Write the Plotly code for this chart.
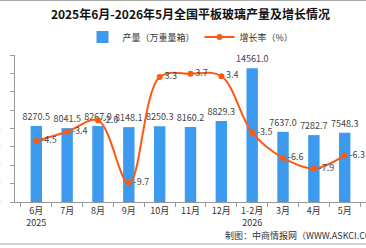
import plotly.graph_objects as go

categories = ["6月<br>2025", "7月", "8月", "9月", "10月", "11月", "12月", "1-2月<br>2026", "3月", "4月", "5月"]
output_vals = [8270.5, 8041.5, 8267.0, 8148.1, 8250.3, 8160.2, 8829.3, 14561.0, 7637.0, 7282.7, 7548.3]
growth_vals = [-4.5, -3.4, -2.0, -9.7, 3.3, 3.7, 3.4, -3.5, -6.6, -7.9, -6.3]
y_ticks = [0, 2000, 4000, 6000, 8000, 10000, 12000, 14000, 16000]

FONT = "Noto Sans CJK SC"
BAR_C = "#3D9BEF"
LINE_C = "#FA5A16"

W, H = 366, 248
ML, MR, MT, MB = 15, 0, 55, 46
PW, PH = W - ML - MR, H - MT - MB

def px(x):
    return (x - ML) / PW

def py(y):
    return (H - MB - y) / PH

fig = go.Figure()
fig.add_trace(go.Bar(
    x=categories, y=output_vals, name="产量（万重量箱）",
    marker=dict(color=BAR_C, line=dict(width=0)),
    text=[f"{v:.1f}" for v in output_vals], textposition="outside", constraintext="none",
    textfont=dict(size=9, color="#444", family=FONT), cliponaxis=False,
))
fig.add_trace(go.Scatter(
    x=categories, y=growth_vals, name="增长率（%）", yaxis="y2",
    mode="lines+markers+text", line=dict(color=LINE_C, width=2, shape="spline", smoothing=1.0),
    marker=dict(color=LINE_C, size=6),
    text=[f"{v:.1f}" for v in growth_vals], textposition="middle right",
    textfont=dict(size=9, color="#444", family=FONT), cliponaxis=False,
))

fig.update_layout(
    width=W, height=H,
    margin=dict(l=ML, r=MR, t=MT, b=MB, autoexpand=False),
    paper_bgcolor="white", plot_bgcolor="white",
    font=dict(family=FONT, size=9, color="#333"),
    title=dict(text="<b>2025年6月-2026年5月全国平板玻璃产量及增长情况</b>",
               x=0.5, xref="paper", y=1 - 15 / H, yref="container", xanchor="center", yanchor="middle",
               font=dict(size=12, color="#111", family=FONT)),
    showlegend=True,
    legend=dict(orientation="h", x=0.5, xanchor="center", xref="paper", y=py(37), yanchor="middle",
                font=dict(size=9, color="#333", family=FONT), itemwidth=30,
                bgcolor="rgba(0,0,0,0)", tracegroupgap=0),
    bargap=0.63,
    xaxis=dict(type="category", showgrid=False, showline=True, linecolor="#999", linewidth=1,
               ticks="outside", ticklen=4, tickcolor="#999", tickson="boundaries", tickangle=0,
               tickfont=dict(size=9, color="#333", family=FONT), automargin=False),
    yaxis=dict(range=[0, 16000], tickvals=y_ticks, showgrid=False, showline=True,
               linecolor="#999", linewidth=1, ticks="outside", ticklen=4, tickcolor="#999",
               tickfont=dict(size=9, color="#333", family=FONT), automargin=False,
               zeroline=False, ticklabelstandoff=8),
    yaxis2=dict(range=[-12, 6], overlaying="y", side="right", visible=False, showgrid=False,
                zeroline=False),
    shapes=[
        dict(type="line", xref="paper", yref="paper", x0=px(0), x1=px(W), y0=py(0.5), y1=py(0.5),
             line=dict(color="#aaa", width=1)),
        dict(type="line", xref="paper", yref="paper", x0=px(0), x1=px(W), y0=py(244), y1=py(244),
             line=dict(color="#aaa", width=1)),
    ],
    annotations=[
        dict(text="制图：中商情报网（WWW.ASKCI.COM）", xref="paper", yref="paper",
             x=px(223), y=py(235), xanchor="left", yanchor="middle", showarrow=False,
             font=dict(size=9, color="#333", family=FONT)),
    ],
)

fig.write_html("out.html")
